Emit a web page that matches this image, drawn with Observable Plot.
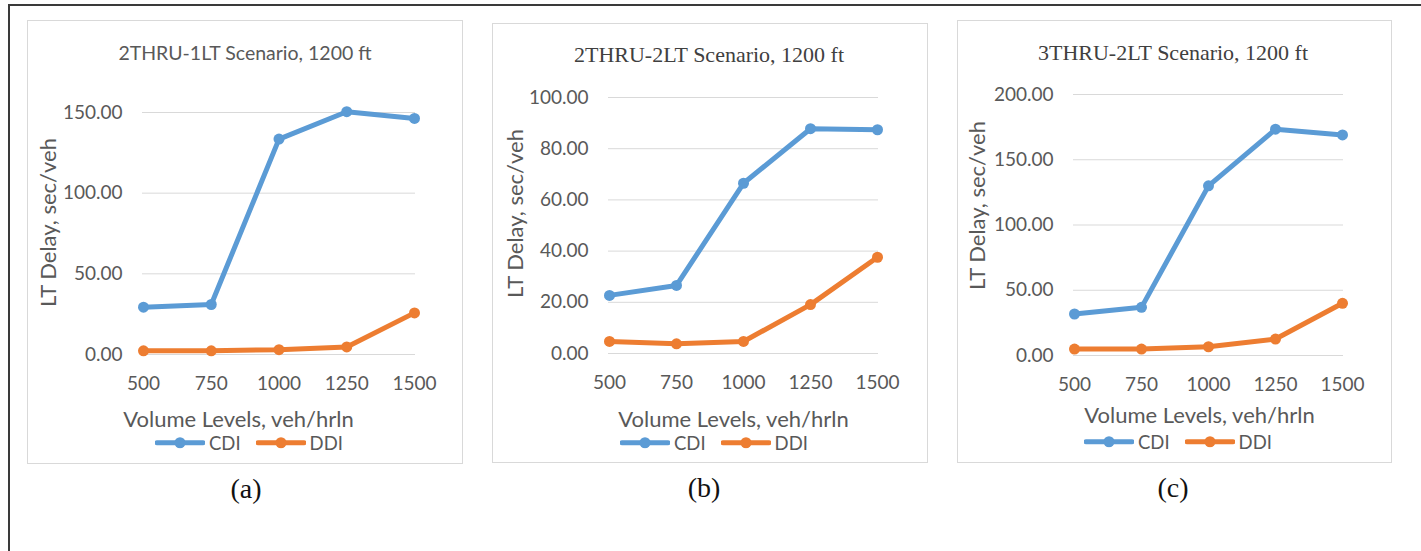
<!DOCTYPE html>
<html>
<head>
<meta charset="utf-8">
<script src="https://cdn.jsdelivr.net/npm/d3@7"></script>
<script src="https://cdn.jsdelivr.net/npm/@observablehq/plot@0.6"></script>
<style>
  html, body { margin: 0; padding: 0; background: #fff; }
  #page { position: relative; width: 1421px; height: 551px; overflow: hidden; background: #fff; }
  .frame { position: absolute; left: 8px; top: 4px; right: -10px; bottom: -10px; border-left: 2px solid #3a3a3a; border-top: 2px solid #3a3a3a; }
  .box { position: absolute; border: 1px solid #d9d9d9; box-sizing: border-box; }
  .abs { position: absolute; white-space: nowrap; line-height: 1; transform: translate(-50%, -50%); }
  .legend { position: absolute; display: flex; align-items: center; transform: translateY(-50%); font-family: Lato, sans-serif; font-size: 18.5px; line-height: 1; color: #595959; }
  .legend .item { display: flex; align-items: center; margin-right: 15px; }
  .legend svg { display: block; margin-right: 4px; }
  .plot { position: absolute; }
</style>
</head>
<body>
<div id="page"><div class="frame"></div></div>
<script>
// ---- data ----
const volumes = [500, 750, 1000, 1250, 1500];
const seriesNames = ["CDI", "DDI"];
const seriesColors = ["#5B9BD5", "#ED7D31"];

const cdiA = [29.3, 31, 133.5, 150.5, 146.3];
const ddiA = [2.3, 2.3, 3, 4.7, 25.8];
const cdiB = [22.7, 26.6, 66.5, 87.8, 87.4];
const ddiB = [4.7, 3.8, 4.7, 19.1, 37.6];
const cdiC = [31.8, 36.9, 130, 173.4, 169];
const ddiC = [4.9, 4.9, 6.7, 12.6, 40];

const titles = ["2THRU-1LT Scenario, 1200 ft", "2THRU-2LT Scenario, 1200 ft", "3THRU-2LT Scenario, 1200 ft"];
const captions = ["(a)", "(b)", "(c)"];
const xLabel = "Volume Levels, veh/hrln";
const yLabel = "LT Delay, sec/veh";
const yTicksA = [0, 50, 100, 150];
const yTicksB = [0, 20, 40, 60, 80, 100];
const yTicksC = [0, 50, 100, 150, 200];

// ---- layout (page pixels) ----
const panels = [
  { cdi: cdiA, ddi: ddiA, yTicks: yTicksA, yMax: 150,
    box: {L: 27, T: 20, W: 436, H: 444}, frame: {x0: 142, x1: 415, yTop: 112, yBot: 354},
    title: {cx: 245, cy: 53, font: "Lato, sans-serif", size: 19.5, color: "#595959"},
    xt: {cx: 238, cy: 419}, yt: {cx: 48, cy: 222}, legend: {L: 155, cy: 443}, cap: {cx: 246, cy: 489} },
  { cdi: cdiB, ddi: ddiB, yTicks: yTicksB, yMax: 100,
    box: {L: 492, T: 23, W: 436, H: 440}, frame: {x0: 608, x1: 878, yTop: 97, yBot: 353},
    title: {cx: 709, cy: 55, font: "'Liberation Serif', serif", size: 22, color: "#404040"},
    xt: {cx: 733, cy: 419}, yt: {cx: 515, cy: 213}, legend: {L: 620, cy: 443}, cap: {cx: 704, cy: 488} },
  { cdi: cdiC, ddi: ddiC, yTicks: yTicksC, yMax: 200,
    box: {L: 957, T: 20, W: 435, H: 443}, frame: {x0: 1073, x1: 1343, yTop: 94, yBot: 355},
    title: {cx: 1173, cy: 53, font: "'Liberation Serif', serif", size: 22, color: "#404040"},
    xt: {cx: 1199, cy: 415}, yt: {cx: 977, cy: 205}, legend: {L: 1084, cy: 442}, cap: {cx: 1173, cy: 488} }
];

const page = document.getElementById("page");

function addDiv(cls, css, text) {
  const d = document.createElement("div");
  d.className = cls;
  Object.assign(d.style, css);
  if (text != null) d.textContent = text;
  page.appendChild(d);
  return d;
}

panels.forEach((p, i) => {
  const {box, frame} = p;
  addDiv("box", {left: box.L + "px", top: box.T + "px", width: box.W + "px", height: box.H + "px"});
  addDiv("abs", {left: p.title.cx + "px", top: p.title.cy + "px", fontFamily: p.title.font, fontSize: p.title.size + "px", color: p.title.color}, titles[i]);

  const rows = [];
  volumes.forEach((v, k) => {
    rows.push({volume: v, delay: p.cdi[k], series: seriesNames[0]});
    rows.push({volume: v, delay: p.ddi[k], series: seriesNames[1]});
  });

  const mL = frame.x0 - box.L, mR = box.L + box.W - frame.x1;
  const mT = frame.yTop - box.T, mB = box.T + box.H - frame.yBot;
  const frameCx = (frame.x0 + frame.x1) / 2, frameCy = (frame.yTop + frame.yBot) / 2;

  const chart = Plot.plot({
    width: box.W, height: box.H,
    marginLeft: mL, marginRight: mR, marginTop: mT, marginBottom: mB,
    style: {fontFamily: "Lato, sans-serif", fontSize: "19px", color: "#595959", background: "transparent", overflow: "visible"},
    x: {domain: [volumes[0], volumes[volumes.length - 1]], inset: 1},
    y: {domain: [0, p.yMax]},
    color: {domain: seriesNames, range: seriesColors},
    marks: [
      Plot.gridY(p.yTicks, {stroke: "#d9d9d9", strokeOpacity: 1, strokeWidth: 1}),
      Plot.axisY(p.yTicks, {tickSize: 0, tickPadding: 20, tickFormat: d3.format(".2f"), label: null}),
      Plot.axisX(volumes, {tickSize: 0, tickPadding: 22, tickFormat: d => String(d), label: null}),
      Plot.lineY(rows, {x: "volume", y: "delay", z: "series", stroke: "series", strokeWidth: 5, strokeLinejoin: "round", strokeLinecap: "round"}),
      Plot.dot(rows, {x: "volume", y: "delay", fill: "series", r: 5.5, stroke: null}),
      Plot.text([xLabel], {frameAnchor: "bottom", text: d => d, dx: p.xt.cx - frameCx, dy: p.xt.cy - frame.yBot, lineAnchor: "middle", fontSize: 22, fill: "#595959"}),
      Plot.text([yLabel], {frameAnchor: "left", text: d => d, rotate: -90, dx: p.yt.cx - frame.x0, dy: p.yt.cy - frameCy, lineAnchor: "middle", textAnchor: "middle", fontSize: 22, fill: "#595959"})
    ]
  });
  chart.classList.add("plot");
  chart.style.left = box.L + "px";
  chart.style.top = box.T + "px";
  page.appendChild(chart);

  // legend
  const lg = addDiv("legend", {left: p.legend.L + "px", top: p.legend.cy + "px"});
  seriesNames.forEach((name, k) => {
    const item = document.createElement("div");
    item.className = "item";
    item.innerHTML = `<svg width="50" height="12"><line x1="2" y1="6" x2="48" y2="6" stroke="${seriesColors[k]}" stroke-width="5" stroke-linecap="round"/><circle cx="25" cy="6" r="5.5" fill="${seriesColors[k]}"/></svg><span>${name}</span>`;
    lg.appendChild(item);
  });

  addDiv("abs", {left: p.cap.cx + "px", top: p.cap.cy + "px", fontFamily: "'Liberation Serif', serif", fontSize: "28px", color: "#111"}, captions[i]);
});
</script>
</body>
</html>
